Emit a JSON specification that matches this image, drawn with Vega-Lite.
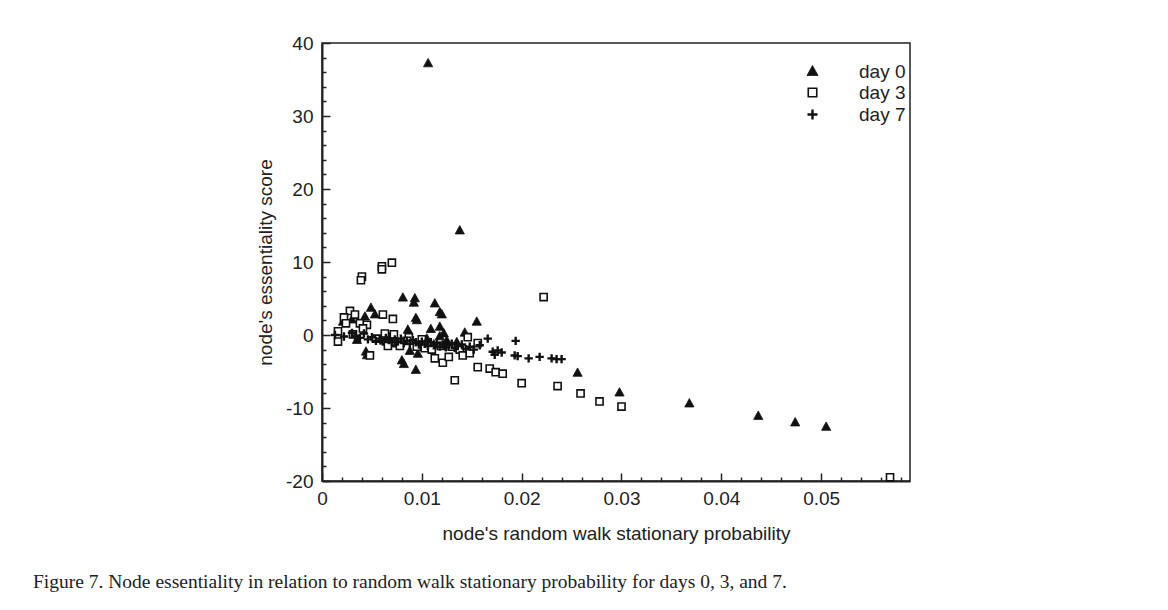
{
  "$schema": "https://vega.github.io/schema/vega-lite/v6.json",
  "width": 588,
  "height": 438,
  "autosize": {"type": "none"},
  "padding": {"left": 322, "top": 43, "right": 258, "bottom": 129},
  "background": "white",
  "config": {
    "view": {"stroke": "#222", "strokeWidth": 1.5},
    "font": "Liberation Sans",
    "legend": {"orient": "none", "legendX": 481, "legendY": 19, "title": null, "padding": 0, "labelFont": "Liberation Sans", "labelFontSize": 19, "labelColor": "#222", "labelOffset": 37, "rowPadding": 1}
  },
  "title": {
    "text": "Figure 7. Node essentiality in relation to random walk stationary probability for days 0, 3, and 7.",
    "orient": "bottom",
    "anchor": "start",
    "frame": "group",
    "dx": -289,
    "offset": 30,
    "font": "Liberation Serif",
    "fontSize": 19.5,
    "fontWeight": "normal",
    "color": "#222"
  },
  "data": {
    "values": [
      {"day": "day 0", "p": 0.01063, "score": 37.2},
      {"day": "day 0", "p": 0.0138, "score": 14.3},
      {"day": "day 0", "p": 0.0081, "score": 5.1},
      {"day": "day 0", "p": 0.0093, "score": 5.0},
      {"day": "day 0", "p": 0.0092, "score": 4.4},
      {"day": "day 0", "p": 0.0113, "score": 4.3},
      {"day": "day 0", "p": 0.0118, "score": 3.1},
      {"day": "day 0", "p": 0.012, "score": 2.8},
      {"day": "day 0", "p": 0.0049, "score": 3.7},
      {"day": "day 0", "p": 0.0053, "score": 2.8},
      {"day": "day 0", "p": 0.0094, "score": 2.3},
      {"day": "day 0", "p": 0.0095, "score": 2.0},
      {"day": "day 0", "p": 0.0043, "score": 2.5},
      {"day": "day 0", "p": 0.003, "score": 2.1},
      {"day": "day 0", "p": 0.0021, "score": 1.8},
      {"day": "day 0", "p": 0.0155, "score": 1.8},
      {"day": "day 0", "p": 0.0118, "score": 1.1},
      {"day": "day 0", "p": 0.0109, "score": 0.8},
      {"day": "day 0", "p": 0.0086, "score": 0.7},
      {"day": "day 0", "p": 0.0143, "score": 0.3},
      {"day": "day 0", "p": 0.0044, "score": -2.3},
      {"day": "day 0", "p": 0.0045, "score": -2.8},
      {"day": "day 0", "p": 0.008, "score": -3.5},
      {"day": "day 0", "p": 0.0082, "score": -4.0},
      {"day": "day 0", "p": 0.0094, "score": -4.8},
      {"day": "day 0", "p": 0.0096, "score": -2.6},
      {"day": "day 0", "p": 0.0088, "score": -2.2},
      {"day": "day 0", "p": 0.0035, "score": -0.7},
      {"day": "day 0", "p": 0.0118, "score": -0.2},
      {"day": "day 0", "p": 0.01, "score": -1.0},
      {"day": "day 0", "p": 0.0105, "score": -0.5},
      {"day": "day 0", "p": 0.0112, "score": -1.3},
      {"day": "day 0", "p": 0.0125, "score": -0.8},
      {"day": "day 0", "p": 0.0068, "score": -0.3},
      {"day": "day 0", "p": 0.0075, "score": -1.2},
      {"day": "day 0", "p": 0.0062, "score": -0.8},
      {"day": "day 0", "p": 0.0135, "score": -1.0},
      {"day": "day 0", "p": 0.0122, "score": 0.2},
      {"day": "day 0", "p": 0.0256, "score": -5.2},
      {"day": "day 0", "p": 0.0298, "score": -7.9},
      {"day": "day 0", "p": 0.0368, "score": -9.4},
      {"day": "day 0", "p": 0.0437, "score": -11.1},
      {"day": "day 0", "p": 0.0474, "score": -12.0},
      {"day": "day 0", "p": 0.0505, "score": -12.6},
      {"day": "day 3", "p": 0.004, "score": 8.0},
      {"day": "day 3", "p": 0.0039, "score": 7.5},
      {"day": "day 3", "p": 0.006, "score": 9.4},
      {"day": "day 3", "p": 0.006, "score": 9.0},
      {"day": "day 3", "p": 0.007, "score": 9.9},
      {"day": "day 3", "p": 0.0028, "score": 3.3},
      {"day": "day 3", "p": 0.0022, "score": 2.4},
      {"day": "day 3", "p": 0.0033, "score": 2.8},
      {"day": "day 3", "p": 0.0061, "score": 2.8},
      {"day": "day 3", "p": 0.0071, "score": 2.2},
      {"day": "day 3", "p": 0.0024, "score": 1.6},
      {"day": "day 3", "p": 0.0038, "score": 1.6},
      {"day": "day 3", "p": 0.0045, "score": 1.4},
      {"day": "day 3", "p": 0.0041, "score": 0.9},
      {"day": "day 3", "p": 0.0016, "score": 0.5},
      {"day": "day 3", "p": 0.0016, "score": -0.9},
      {"day": "day 3", "p": 0.0031, "score": 0.1},
      {"day": "day 3", "p": 0.0063, "score": 0.2},
      {"day": "day 3", "p": 0.0072, "score": 0.1},
      {"day": "day 3", "p": 0.0054, "score": -0.5},
      {"day": "day 3", "p": 0.0087, "score": -0.3},
      {"day": "day 3", "p": 0.01, "score": -0.6},
      {"day": "day 3", "p": 0.0085, "score": -0.8},
      {"day": "day 3", "p": 0.0048, "score": -2.8},
      {"day": "day 3", "p": 0.0066, "score": -1.5},
      {"day": "day 3", "p": 0.0078, "score": -1.5},
      {"day": "day 3", "p": 0.0095, "score": -1.6},
      {"day": "day 3", "p": 0.0103, "score": -1.8},
      {"day": "day 3", "p": 0.011, "score": -2.0},
      {"day": "day 3", "p": 0.0113, "score": -3.2},
      {"day": "day 3", "p": 0.0119, "score": -1.5},
      {"day": "day 3", "p": 0.0121, "score": -3.8},
      {"day": "day 3", "p": 0.0127, "score": -3.0},
      {"day": "day 3", "p": 0.013, "score": -1.6},
      {"day": "day 3", "p": 0.0133, "score": -6.2},
      {"day": "day 3", "p": 0.0138, "score": -2.0},
      {"day": "day 3", "p": 0.0141, "score": -2.8},
      {"day": "day 3", "p": 0.0146, "score": -0.3},
      {"day": "day 3", "p": 0.0148, "score": -2.5},
      {"day": "day 3", "p": 0.0156, "score": -4.4},
      {"day": "day 3", "p": 0.0156, "score": -1.1},
      {"day": "day 3", "p": 0.0168, "score": -4.6},
      {"day": "day 3", "p": 0.0174, "score": -5.1},
      {"day": "day 3", "p": 0.0181, "score": -5.3},
      {"day": "day 3", "p": 0.02, "score": -6.6},
      {"day": "day 3", "p": 0.0222, "score": 5.2},
      {"day": "day 3", "p": 0.0236, "score": -7.0},
      {"day": "day 3", "p": 0.0259, "score": -8.0},
      {"day": "day 3", "p": 0.0278, "score": -9.1},
      {"day": "day 3", "p": 0.03, "score": -9.8},
      {"day": "day 3", "p": 0.0569, "score": -19.5},
      {"day": "day 7", "p": 0.0013, "score": 0.0},
      {"day": "day 7", "p": 0.0022, "score": -0.2},
      {"day": "day 7", "p": 0.003, "score": 0.3},
      {"day": "day 7", "p": 0.0033, "score": -0.1},
      {"day": "day 7", "p": 0.0038, "score": -0.4},
      {"day": "day 7", "p": 0.0042, "score": 0.2},
      {"day": "day 7", "p": 0.0046, "score": -0.6},
      {"day": "day 7", "p": 0.005, "score": -0.3},
      {"day": "day 7", "p": 0.0054, "score": -0.8},
      {"day": "day 7", "p": 0.0058, "score": -0.5},
      {"day": "day 7", "p": 0.0061, "score": -0.9},
      {"day": "day 7", "p": 0.0064, "score": -0.4},
      {"day": "day 7", "p": 0.0067, "score": -0.7},
      {"day": "day 7", "p": 0.007, "score": -1.0},
      {"day": "day 7", "p": 0.0073, "score": -0.6},
      {"day": "day 7", "p": 0.0076, "score": -0.9},
      {"day": "day 7", "p": 0.0079, "score": -0.5},
      {"day": "day 7", "p": 0.0082, "score": -1.1},
      {"day": "day 7", "p": 0.0085, "score": -0.8},
      {"day": "day 7", "p": 0.0088, "score": -1.2},
      {"day": "day 7", "p": 0.0091, "score": -0.7},
      {"day": "day 7", "p": 0.0094, "score": -1.0},
      {"day": "day 7", "p": 0.0097, "score": -1.3},
      {"day": "day 7", "p": 0.01, "score": -0.9},
      {"day": "day 7", "p": 0.0103, "score": -1.2},
      {"day": "day 7", "p": 0.0106, "score": -1.5},
      {"day": "day 7", "p": 0.0109, "score": -1.0},
      {"day": "day 7", "p": 0.0112, "score": -1.4},
      {"day": "day 7", "p": 0.0115, "score": -1.1},
      {"day": "day 7", "p": 0.0118, "score": -1.6},
      {"day": "day 7", "p": 0.0121, "score": -1.3},
      {"day": "day 7", "p": 0.0124, "score": -1.7},
      {"day": "day 7", "p": 0.0127, "score": -1.4},
      {"day": "day 7", "p": 0.013, "score": -1.2},
      {"day": "day 7", "p": 0.0133, "score": -1.8},
      {"day": "day 7", "p": 0.0136, "score": -1.5},
      {"day": "day 7", "p": 0.014, "score": -1.3},
      {"day": "day 7", "p": 0.0144, "score": -1.9},
      {"day": "day 7", "p": 0.0148, "score": -1.6},
      {"day": "day 7", "p": 0.0152, "score": -2.0},
      {"day": "day 7", "p": 0.0158, "score": -1.4},
      {"day": "day 7", "p": 0.0166, "score": -0.5},
      {"day": "day 7", "p": 0.0171, "score": -2.3},
      {"day": "day 7", "p": 0.0173, "score": -2.7},
      {"day": "day 7", "p": 0.0176, "score": -2.1},
      {"day": "day 7", "p": 0.018, "score": -2.4},
      {"day": "day 7", "p": 0.0194, "score": -0.8},
      {"day": "day 7", "p": 0.0193, "score": -2.8},
      {"day": "day 7", "p": 0.0196, "score": -2.9},
      {"day": "day 7", "p": 0.0207, "score": -3.2},
      {"day": "day 7", "p": 0.0218, "score": -3.0},
      {"day": "day 7", "p": 0.023, "score": -3.2},
      {"day": "day 7", "p": 0.0235, "score": -3.3},
      {"day": "day 7", "p": 0.024, "score": -3.3}
    ]
  },
  "mark": {"type": "point", "opacity": 1, "size": 70},
  "encoding": {
    "x": {
      "field": "p",
      "type": "quantitative",
      "scale": {"domain": [0, 0.0589], "nice": false, "zero": false},
      "axis": {
        "values": [0, 0.002, 0.004, 0.006, 0.008, 0.01, 0.012, 0.014, 0.016, 0.018, 0.02, 0.022, 0.024, 0.026, 0.028, 0.03, 0.032, 0.034, 0.036, 0.038, 0.04, 0.042, 0.044, 0.046, 0.048, 0.05, 0.052, 0.054, 0.056, 0.058],
        "labelExpr": "abs(datum.value*100 - round(datum.value*100)) < 1e-6 ? (datum.value == 0 ? '0' : format(datum.value, '.2f')) : ''",
        "tickSize": {"condition": {"test": "abs(datum.value*100 - round(datum.value*100)) < 1e-6", "value": -8}, "value": -4},
        "tickWidth": 1.5,
        "tickColor": "#222",
        "domainColor": "#222",
        "domainWidth": 2,
        "grid": false,
        "labelFont": "Liberation Sans",
        "labelFontSize": 19,
        "labelColor": "#222",
        "labelPadding": 16,
        "labelFlush": false,
        "labelOverlap": false,
        "title": "node's random walk stationary probability",
        "titleFont": "Liberation Sans",
        "titleFontSize": 19,
        "titleFontWeight": "normal",
        "titleColor": "#222",
        "titlePadding": 12
      }
    },
    "y": {
      "field": "score",
      "type": "quantitative",
      "scale": {"domain": [-20, 40], "nice": false, "zero": false},
      "axis": {
        "values": [-20, -18, -16, -14, -12, -10, -8, -6, -4, -2, 0, 2, 4, 6, 8, 10, 12, 14, 16, 18, 20, 22, 24, 26, 28, 30, 32, 34, 36, 38, 40],
        "labelExpr": "datum.value % 10 == 0 ? '' + datum.value : ''",
        "tickSize": {"condition": {"test": "datum.value % 10 == 0", "value": -8}, "value": -4},
        "tickWidth": 1.5,
        "tickColor": "#222",
        "domainColor": "#222",
        "domainWidth": 2,
        "grid": false,
        "labelFont": "Liberation Sans",
        "labelFontSize": 19,
        "labelColor": "#222",
        "labelPadding": 17,
        "labelOverlap": false,
        "labelFlush": false,
        "title": "node's essentiality score",
        "titleFont": "Liberation Sans",
        "titleFontSize": 19,
        "titleFontWeight": "normal",
        "titleColor": "#222",
        "titlePadding": 10
      }
    },
    "shape": {
      "field": "day",
      "type": "nominal",
      "scale": {"domain": ["day 0", "day 3", "day 7"], "range": ["M0,-1.2L1.1,0.8L-1.1,0.8Z", "M-0.85,-0.85H0.85V0.85H-0.85Z", "M-1,0H1M0,-1V1"]}
    },
    "fill": {
      "field": "day",
      "type": "nominal",
      "scale": {"domain": ["day 0", "day 3", "day 7"], "range": ["#111111", "#ffffff", "transparent"]}
    },
    "stroke": {
      "field": "day",
      "type": "nominal",
      "scale": {"domain": ["day 0", "day 3", "day 7"], "range": ["#111111", "#111111", "#111111"]}
    },
    "strokeWidth": {
      "field": "day",
      "type": "ordinal",
      "scale": {"domain": ["day 0", "day 3", "day 7"], "range": [0.8, 2.4], "padding": 0}
    }
  }
}
